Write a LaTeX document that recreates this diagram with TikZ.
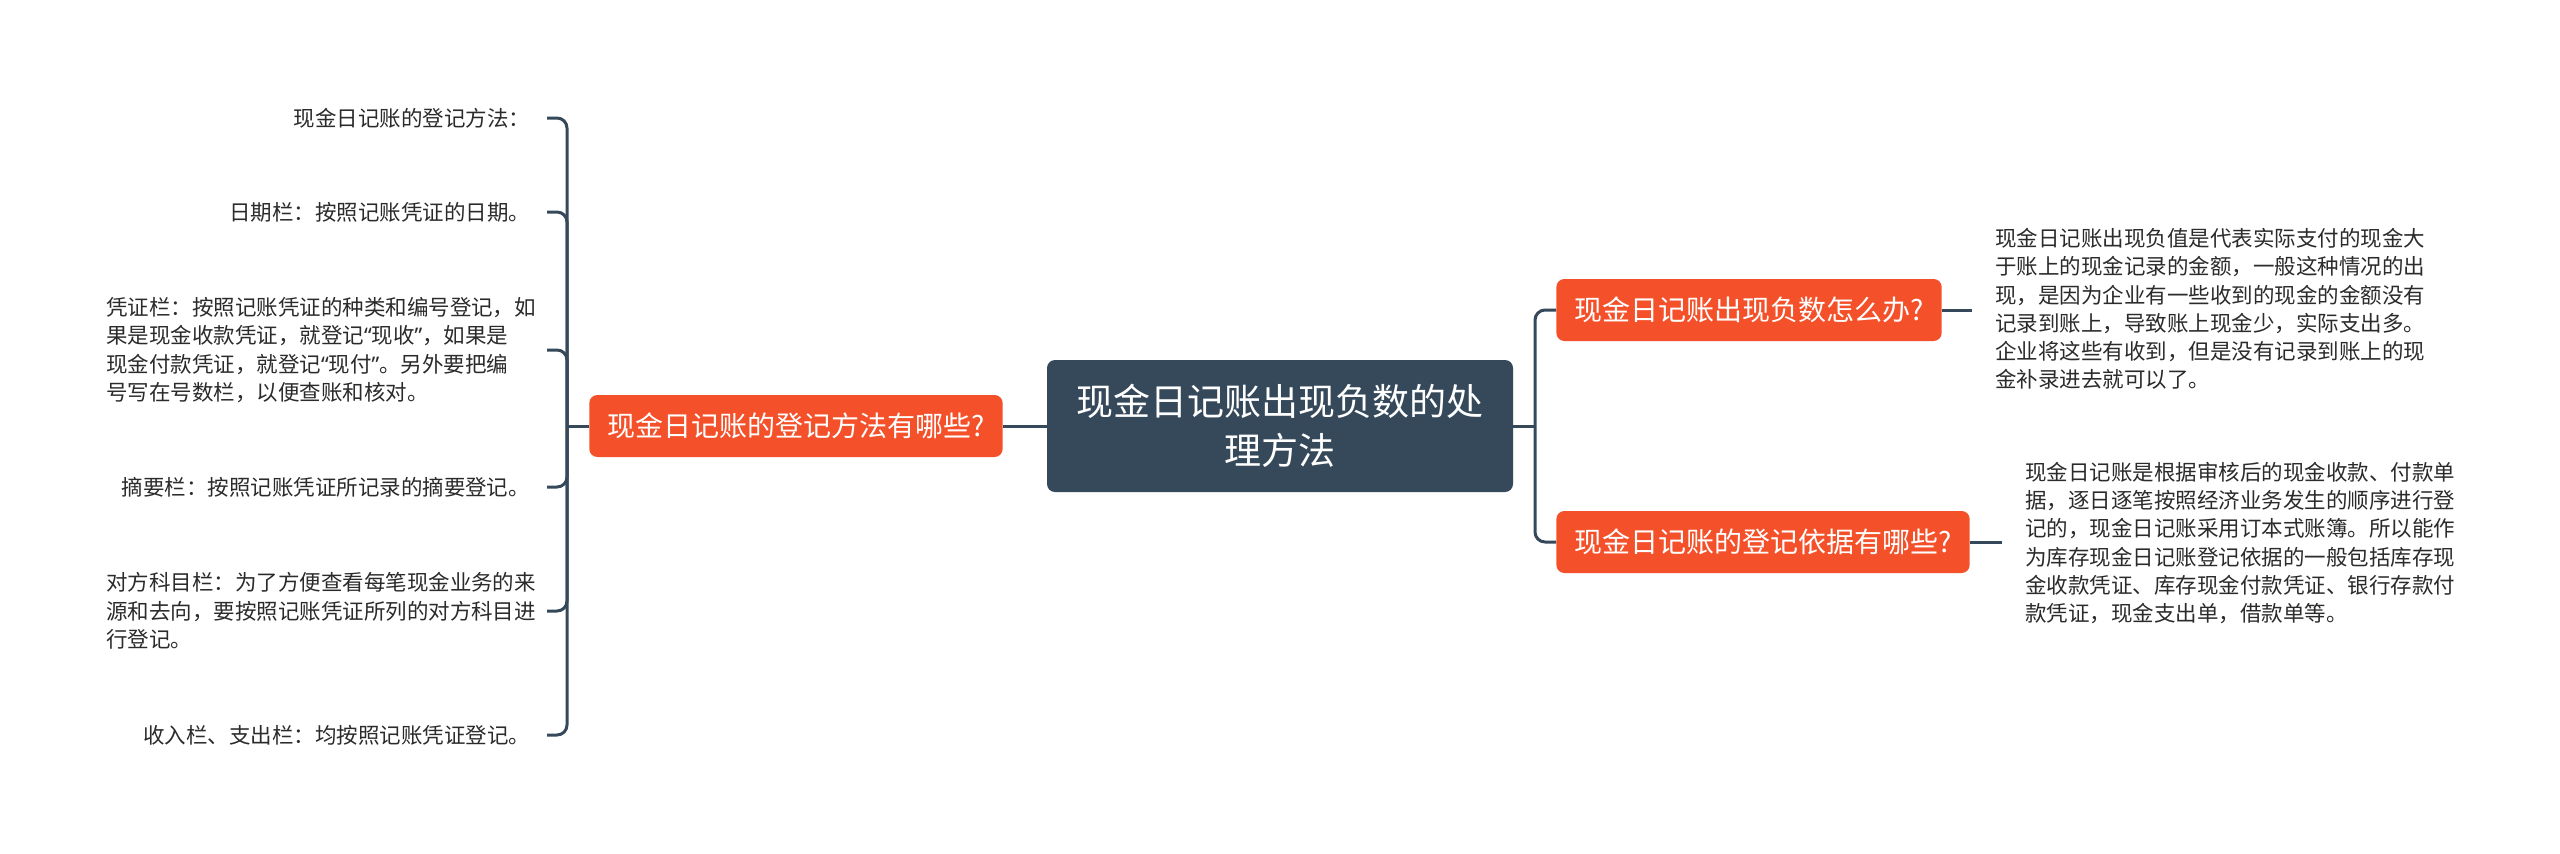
\documentclass[tikz,border=0pt]{standalone}
\usepackage{fontspec}
\newfontfamily\cjk{Noto Sans CJK SC}
\newfontfamily\latq{Noto Sans}
\newcommand{\myoq}{{\latq “}}
\newcommand{\mycq}{{\latq ”}}
\definecolor{rootc}{HTML}{36495B}
\definecolor{orangec}{HTML}{F4502A}
\definecolor{linec}{HTML}{36495B}
\definecolor{leaftext}{HTML}{2B2B2B}
\tikzset{
  rootbox/.style={fill=rootc, rounded corners=4pt, text=white,
    font=\cjk\fontsize{18.5}{24.5}\selectfont, align=center,
    minimum width=233pt, minimum height=66pt, inner sep=0pt},
  branchbox/.style={fill=orangec, rounded corners=4pt, text=white,
    font=\cjk\fontsize{14}{17}\selectfont, inner xsep=9pt, inner ysep=0pt,
    minimum height=31pt},
  leaftxt/.style={font=\cjk\fontsize{10.75}{14.15}\selectfont, text=leaftext,
    inner sep=0pt, outer xsep=8.5pt, outer ysep=0pt, align=left},
  leafmulti/.style={leaftxt, outer xsep=5.5pt},
  rtxt/.style={font=\cjk\fontsize{10.75}{14.1}\selectfont, text=leaftext,
    inner sep=0pt, outer xsep=11.5pt, outer ysep=0pt, align=left},
  conn/.style={draw=linec, line width=1.5pt, rounded corners=5pt}
}
\begin{document}
\begin{tikzpicture}[x=0.5pt,y=-0.5pt]
\useasboundingbox[fill=white] (0,0) rectangle (2560,853);

% root
\node[rootbox] (root) at (1280,426) {现金日记账出现负数的处\\理方法};

% branches
\node[branchbox, anchor=east] (lb) at (1003,426) {现金日记账的登记方法有哪些?};
\node[branchbox, anchor=west] (ru) at (1556,310) {现金日记账出现负数怎么办?};
\node[branchbox, anchor=west] (rd) at (1556,542) {现金日记账的登记依据有哪些?};

% left leaves
\node[leaftxt, anchor=east] (l1) at (547,118) {现金日记账的登记方法：};
\node[leaftxt, anchor=east] (l2) at (547,212) {日期栏：按照记账凭证的日期。};
\node[leafmulti, anchor=east] (l3) at (547,350) {凭证栏：按照记账凭证的种类和编号登记，如\\果是现金收款凭证，就登记\myoq 现收\mycq，如果是\\现金付款凭证，就登记\myoq 现付\mycq。另外要把编\\号写在号数栏，以便查账和核对。};
\node[leaftxt, anchor=east] (l4) at (547,487) {摘要栏：按照记账凭证所记录的摘要登记。};
\node[leafmulti, anchor=east] (l5) at (547,611) {对方科目栏：为了方便查看每笔现金业务的来\\源和去向，要按照记账凭证所列的对方科目进\\行登记。};
\node[leaftxt, anchor=east] (l6) at (547,735) {收入栏、支出栏：均按照记账凭证登记。};

% right texts
\node[rtxt, anchor=west] (rt) at (1972,309) {现金日记账出现负值是代表实际支付的现金大\\于账上的现金记录的金额，一般这种情况的出\\现，是因为企业有一些收到的现金的金额没有\\记录到账上，导致账上现金少，实际支出多。\\企业将这些有收到，但是没有记录到账上的现\\金补录进去就可以了。};
\node[rtxt, anchor=west] (rdt) at (2002,543) {现金日记账是根据审核后的现金收款、付款单\\据，逐日逐笔按照经济业务发生的顺序进行登\\记的，现金日记账采用订本式账簿。所以能作\\为库存现金日记账登记依据的一般包括库存现\\金收款凭证、库存现金付款凭证、银行存款付\\款凭证，现金支出单，借款单等。};

% junctions
\coordinate (lj) at (567,426);
\coordinate (rj) at (1535,426);

% connectors
\draw[conn] (root.west) -- (lb.east);
\draw[conn] (lb.west) -- (lj);
\foreach \n in {l1,l2,l3,l4,l5,l6} \draw[conn] (lj) |- (\n.east);
\draw[conn] (root.east) -- (rj);
\draw[conn] (rj) |- (ru.west);
\draw[conn] (rj) |- (rd.west);
\draw[conn] (ru.east) -- (ru.east -| rt.west);
\draw[conn] (rd.east) -- (rd.east -| rdt.west);
\end{tikzpicture}
\end{document}
